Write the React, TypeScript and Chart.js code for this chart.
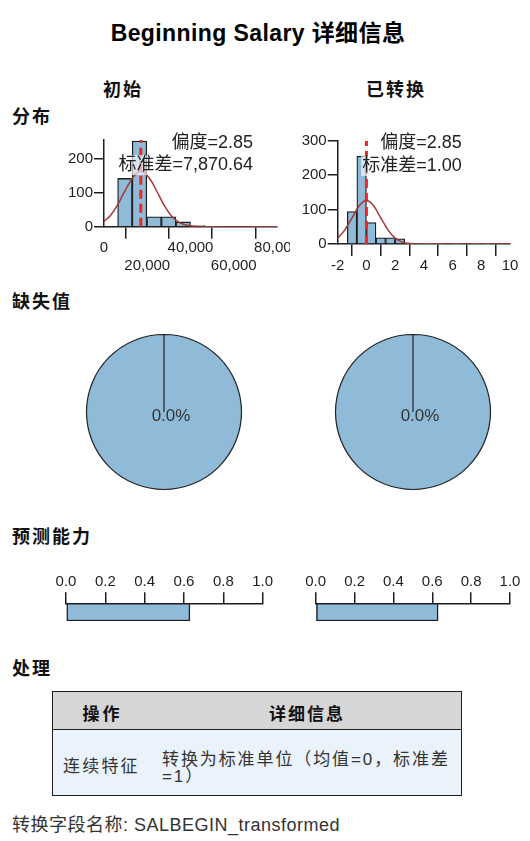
import React, { useEffect, useRef } from "react";
import { Chart, registerables } from "chart.js";

Chart.register(...registerables);

const FONT = '"Liberation Sans", "Noto Sans CJK SC", Arial, sans-serif';
const BLUE = "#8fbbd9";
const INK = "#1e1e1e";

Chart.defaults.font.family = FONT;
Chart.defaults.color = INK;

// ---------- Distribution: initial (Beginning Salary) ----------
const initialBinEdges = [6300, 13040, 19780, 26520, 33260, 40000, 46740, 53480, 60220, 66960, 73700, 80440];
const initialCounts = [142, 252, 29, 29, 14, 3, 1, 0, 0, 1, 1];
const initialCurveX = [0, 3000, 6000, 9000, 12000, 15000, 17000, 19000, 22000, 25000, 28000, 31000, 34000, 37000, 40000, 44000, 50000, 80000];
const initialCurveY = [15.7, 33, 61, 97, 132, 157, 162, 157, 133, 97, 61, 33, 16, 6.5, 2.3, 0.5, 0, 0];
const initialMean = 17016;
const initialXTicks = [0, 20000, 40000, 60000, 80000];
const initialYTicks = [0, 100, 200];
const initialNotes = ["偏度=2.85", "标准差=7,870.64"];

// ---------- Distribution: transformed ----------
const transformedBinEdges = [-1.333, -0.667, 0, 0.667, 1.333, 2, 2.667, 3.333, 4, 4.667, 5.333, 6, 6.667, 7.333, 8, 8.667];
const transformedCounts = [94, 255, 62, 18, 18, 15, 3, 2, 1, 1, 0, 1, 0, 1, 1];
const transformedCurveX = [-2, -1.5, -1, -0.5, 0, 0.5, 1, 1.5, 2, 2.5, 3, 3.5, 4, 10];
const transformedCurveY = [17, 41, 76, 111, 126, 111, 76, 41, 17, 5.5, 1.4, 0.2, 0, 0];
const transformedMean = 0;
const transformedXTicks = [-2, 0, 2, 4, 6, 8, 10];
const transformedYTicks = [0, 100, 200, 300];
const transformedNotes = ["偏度=2.85", "标准差=1.00"];

// ---------- Missing values ----------
const missingLabels = ["缺失", "有效"];
const initialMissing = [0, 100];
const transformedMissing = [0, 100];
const missingText = ["0.0%", "0.0%"];

// ---------- Predictive power ----------
const predictiveTicks = [0, 0.2, 0.4, 0.6, 0.8, 1.0];
const initialPredictive = [0.63];
const transformedPredictive = [0.63];

// ---------- Processing table ----------
const tableHeaders = ["操作", "详细信息"];
const tableAction = "连续特征";
const tableDetailLines = ["转换为标准单位（均值=0，标准差", "=1）"];
const footerText = "转换字段名称: SALBEGIN_transformed";

function notesPlugin(lines: string[], right: number, ys: number[]) {
  return {
    id: "notes",
    afterDatasetsDraw(chart: any) {
      const ctx = chart.ctx;
      ctx.save();
      ctx.font = `18px ${FONT}`;
      ctx.textAlign = "right";
      ctx.textBaseline = "middle";
      lines.forEach((line, i) => {
        const w = ctx.measureText(line).width;
        ctx.fillStyle = "rgba(255,255,255,0.62)";
        ctx.fillRect(right - w - 1, ys[i] - 10, w + 2, 20);
        ctx.fillStyle = "#222";
        ctx.fillText(line, right, ys[i]);
      });
      ctx.restore();
    },
  };
}

function histogramConfig(o: any) {
  const bars = o.counts.map((c: number, i: number) => ({ x: (o.edges[i] + o.edges[i + 1]) / 2, y: c }));
  const curve = o.curveX.map((x: number, i: number) => ({ x, y: o.curveY[i] }));
  const meanLine = [
    { x: o.mean, y: 0 },
    { x: o.mean, y: o.yMax },
  ];
  return {
    type: "bar",
    data: {
      datasets: [
        { type: "line", data: meanLine, borderColor: "#ec2626", borderWidth: 3, borderDash: [9, 5], pointRadius: 0, order: 1 },
        { type: "line", data: curve, borderColor: "#a63838", borderWidth: 1.5, pointRadius: 0, cubicInterpolationMode: "monotone", order: 2 },
        { type: "bar", data: bars, backgroundColor: BLUE, borderColor: INK, borderWidth: 1.3, barPercentage: 1, categoryPercentage: 1, order: 3 },
      ],
    },
    options: {
      responsive: false,
      animation: false,
      events: [],
      layout: { padding: { left: 0, right: o.padRight, top: o.padTop, bottom: 0 } },
      plugins: { legend: { display: false }, tooltip: { enabled: false } },
      scales: {
        x: {
          type: "linear",
          min: o.xMin,
          max: o.xMax,
          offset: false,
          afterBuildTicks: (s: any) => {
            s.ticks = o.xTicks.map((v: number) => ({ value: v }));
          },
          ticks: {
            autoSkip: false,
            maxRotation: 0,
            padding: 1,
            color: INK,
            font: { size: 15, lineHeight: 1.15 },
            callback: (v: number, i: number) => {
              const s = o.fmt(v);
              return o.alternate && i % 2 === 1 ? ["", s] : s;
            },
          },
          grid: { drawOnChartArea: false, drawTicks: true, tickLength: 12, color: INK, lineWidth: 1.5 },
          border: { display: true, color: INK, width: 1.5 },
          afterFit: (s: any) => {
            s.height = o.xAxisHeight;
            s.paddingLeft = 0;
            s.paddingRight = 0;
          },
        },
        y: {
          min: 0,
          max: o.yMax,
          afterBuildTicks: (s: any) => {
            s.ticks = o.yTicks.map((v: number) => ({ value: v }));
          },
          ticks: { padding: 1, color: INK, font: { size: 15 } },
          grid: { drawOnChartArea: false, drawTicks: true, tickLength: 10, color: INK, lineWidth: 1.5 },
          border: { display: true, color: INK, width: 1.5 },
          afterFit: (s: any) => {
            s.width = o.yAxisWidth;
            s.paddingTop = 0;
            s.paddingBottom = 0;
          },
        },
      },
    },
    plugins: [notesPlugin(o.notes, o.noteRight, o.noteY)],
  };
}

function pieConfig(values: number[], text: string) {
  return {
    type: "pie",
    data: {
      labels: missingLabels,
      datasets: [{ data: values, backgroundColor: [BLUE, BLUE], borderColor: "#222", borderWidth: 1.2, radius: 77.5 }],
    },
    options: {
      responsive: false,
      animation: false,
      events: [],
      layout: { padding: 0 },
      plugins: { legend: { display: false }, tooltip: { enabled: false } },
    },
    plugins: [
      {
        id: "pieLabel",
        afterDraw(chart: any) {
          const arc = chart.getDatasetMeta(0).data[1];
          const ctx = chart.ctx;
          ctx.save();
          ctx.font = `17px ${FONT}`;
          ctx.fillStyle = "#333";
          ctx.textAlign = "center";
          ctx.textBaseline = "middle";
          ctx.fillText(text, arc.x + 7, arc.y + 4);
          ctx.restore();
        },
      },
    ],
  };
}

function predictiveConfig(values: number[], padLeft: number, padRight: number) {
  return {
    type: "bar",
    data: {
      labels: ["预测能力"],
      datasets: [
        {
          data: values,
          backgroundColor: BLUE,
          borderColor: INK,
          borderWidth: 1.5,
          borderSkipped: false,
          barPercentage: 1,
          categoryPercentage: 1,
        },
      ],
    },
    options: {
      indexAxis: "y",
      responsive: false,
      animation: false,
      events: [],
      layout: { padding: { left: padLeft, right: padRight, top: 0, bottom: 4 } },
      plugins: { legend: { display: false }, tooltip: { enabled: false } },
      scales: {
        x: {
          position: "top",
          min: 0,
          max: 1,
          afterBuildTicks: (s: any) => {
            s.ticks = predictiveTicks.map((v) => ({ value: v }));
          },
          ticks: {
            autoSkip: false,
            maxRotation: 0,
            padding: 1,
            color: INK,
            font: { size: 15 },
            callback: (v: number) => Number(v).toFixed(1),
          },
          grid: { drawOnChartArea: false, drawTicks: true, tickLength: 11, color: INK, lineWidth: 1.5 },
          border: { display: true, color: INK, width: 1.5 },
          afterFit: (s: any) => {
            s.height = 40.3;
            s.paddingLeft = 0;
            s.paddingRight = 0;
          },
        },
        y: { display: false },
      },
    },
  };
}

function ChartCanvas({ left, top, width, height, make }: any) {
  const ref = useRef<HTMLCanvasElement>(null);
  useEffect(() => {
    const chart = new Chart(ref.current as HTMLCanvasElement, make());
    return () => chart.destroy();
  }, []);
  return (
    <canvas
      ref={ref}
      width={width}
      height={height}
      style={{ position: "absolute", left, top, width, height, display: "block" }}
    />
  );
}

function Text({ x, y, size, bold, align, color, spacing, children }: any) {
  const lh = Math.round(size * 1.3);
  const base: any = {
    position: "absolute",
    top: y - lh / 2,
    lineHeight: `${lh}px`,
    fontSize: size,
    fontWeight: bold ? "bold" : "normal",
    color: color || "#111",
    whiteSpace: "nowrap",
    letterSpacing: spacing || 0,
  };
  if (align === "center") {
    base.left = x - 200;
    base.width = 400;
    base.textAlign = "center";
  } else {
    base.left = x;
  }
  return <div style={base}>{children}</div>;
}

const fmtThousands = (v: number) => Number(v).toLocaleString("en-US");
const fmtPlain = (v: number) => String(v);

export default function App() {
  return (
    <div
      style={{
        position: "absolute",
        left: 0,
        top: 0,
        width: 530,
        height: 841,
        background: "#fff",
        overflow: "hidden",
        fontFamily: FONT,
      }}
    >
      <Text x={258} y={33} size={23} bold align="center" color="#000" spacing={0.4}>
        Beginning Salary 详细信息
      </Text>
      <Text x={123} y={90} size={18} bold align="center" spacing={2}>
        初始
      </Text>
      <Text x={396} y={90} size={18} bold align="center" spacing={2}>
        已转换
      </Text>
      <Text x={12} y={117} size={18} bold spacing={2}>
        分布
      </Text>
      <Text x={12} y={302} size={18} bold spacing={2}>
        缺失值
      </Text>
      <Text x={12} y={537} size={18} bold spacing={2}>
        预测能力
      </Text>
      <Text x={12} y={669} size={18} bold spacing={2}>
        处理
      </Text>

      <ChartCanvas
        left={0}
        top={120}
        width={290}
        height={160}
        make={() =>
          histogramConfig({
            edges: initialBinEdges,
            counts: initialCounts,
            curveX: initialCurveX,
            curveY: initialCurveY,
            mean: initialMean,
            xTicks: initialXTicks,
            yTicks: initialYTicks,
            xMin: 0,
            xMax: 80000,
            yMax: 255,
            alternate: true,
            fmt: fmtThousands,
            yAxisWidth: 104,
            xAxisHeight: 53.3,
            padRight: 13,
            padTop: 20,
            notes: initialNotes,
            noteRight: 253,
            noteY: [22.7, 45],
          })
        }
      />
      <ChartCanvas
        left={290}
        top={120}
        width={240}
        height={160}
        make={() =>
          histogramConfig({
            edges: transformedBinEdges,
            counts: transformedCounts,
            curveX: transformedCurveX,
            curveY: transformedCurveY,
            mean: transformedMean,
            xTicks: transformedXTicks,
            yTicks: transformedYTicks,
            xMin: -2,
            xMax: 10,
            yMax: 300,
            alternate: false,
            fmt: fmtPlain,
            yAxisWidth: 47.7,
            xAxisHeight: 36,
            padRight: 20,
            padTop: 20.7,
            notes: transformedNotes,
            noteRight: 171.7,
            noteY: [22.7, 46],
          })
        }
      />

      <ChartCanvas left={79} top={327} width={170} height={170} make={() => pieConfig(initialMissing, missingText[0])} />
      <ChartCanvas left={327.5} top={327} width={170} height={170} make={() => pieConfig(transformedMissing, missingText[1])} />

      <ChartCanvas left={36} top={563} width={260} height={62} make={() => predictiveConfig(initialPredictive, 30, 33.3)} />
      <ChartCanvas left={286} top={563} width={244} height={62} make={() => predictiveConfig(transformedPredictive, 29.7, 20)} />

      <div
        style={{
          position: "absolute",
          left: 52,
          top: 691,
          width: 410,
          height: 105,
          border: `1.5px solid ${INK}`,
          boxSizing: "border-box",
          background: "#eaf2fb",
        }}
      >
        <div
          style={{
            position: "absolute",
            left: 0,
            top: 0,
            right: 0,
            height: 38,
            background: "#d6d6d6",
            borderBottom: `1.5px solid ${INK}`,
            boxSizing: "border-box",
          }}
        />
      </div>
      <Text x={102.5} y={715} size={17} bold align="center" spacing={3}>
        {tableHeaders[0]}
      </Text>
      <Text x={307} y={715} size={17} bold align="center" spacing={2}>
        {tableHeaders[1]}
      </Text>
      <Text x={63} y={767} size={17} color="#333" spacing={2.2}>
        {tableAction}
      </Text>
      <Text x={162} y={760} size={17} color="#333" spacing={1.9}>
        {tableDetailLines[0]}
      </Text>
      <Text x={162} y={777} size={17} color="#333" spacing={1.9}>
        {tableDetailLines[1]}
      </Text>
      <Text x={12} y={825} size={18} color="#333" spacing={0.5}>
        {footerText}
      </Text>
    </div>
  );
}
